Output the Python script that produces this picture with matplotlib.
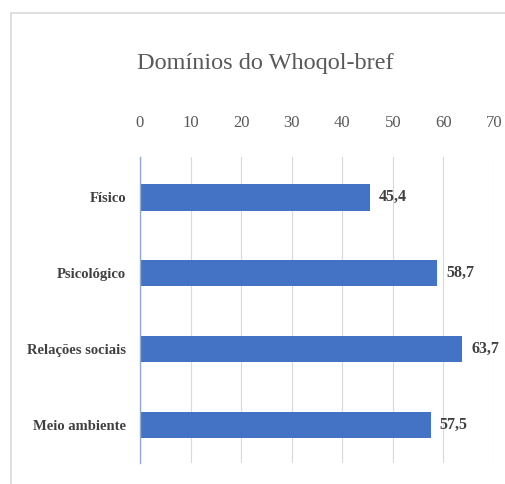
import matplotlib.pyplot as plt
from matplotlib.lines import Line2D

# Dados
dominios = ['Físico', 'Psicológico', 'Relações sociais', 'Meio ambiente']
medias = [45.4, 58.7, 63.7, 57.5]
rotulos = ['45,4', '58,7', '63,7', '57,5']
ticks = [0, 10, 20, 30, 40, 50, 60, 70]

serif = ['Liberation Serif', 'DejaVu Serif']
plt.rcParams['font.family'] = serif

fig = plt.figure(figsize=(5.06, 4.84), dpi=100)
ax = fig.add_axes([140 / 506, 1 - 463 / 484, 354 / 506, 306 / 484])

pos = range(len(dominios))
ax.barh(pos, medias, height=0.35, color='#4472C4', zorder=3)

for i, v in enumerate(medias):
    ax.annotate(rotulos[i], (v, i), xytext=(6.5, 0), textcoords='offset points',
                ha='left', va='center', fontsize=11.5, fontweight='bold',
                color='#404040')

ax.set_xlim(0, 70)
ax.set_ylim(3.5, -0.53)
ax.set_xticks(ticks)
ax.set_xticklabels([str(t) for t in ticks], fontsize=12, color='#595959')
ax.xaxis.tick_top()
ax.tick_params(axis='x', length=0, pad=19)
ax.set_yticks(list(pos))
ax.set_yticklabels(dominios, fontsize=10.5, fontweight='bold', color='#404040')
ax.tick_params(axis='y', length=0, pad=10)

ax.grid(axis='x', color='#D9D9D9', linewidth=0.8, zorder=0)
for s in ['top', 'right', 'bottom']:
    ax.spines[s].set_visible(False)
ax.spines['left'].set_color('#8FAADC')
ax.spines['left'].set_linewidth(1.0)
ax.spines['left'].set_zorder(4)

fig.text(265 / 506, 1 - 63 / 484, 'Domínios do Whoqol-bref', ha='center', va='center',
         fontsize=17.5, color='#595959')

# moldura do gráfico
x0 = 11 / 506
y0 = 1 - 12.5 / 484
fig.add_artist(Line2D([x0, 1], [y0, y0], color='#D9D9D9', linewidth=1.2))
fig.add_artist(Line2D([x0, x0], [0, y0], color='#D9D9D9', linewidth=1.2))

fig.savefig('out.png', dpi=100)
